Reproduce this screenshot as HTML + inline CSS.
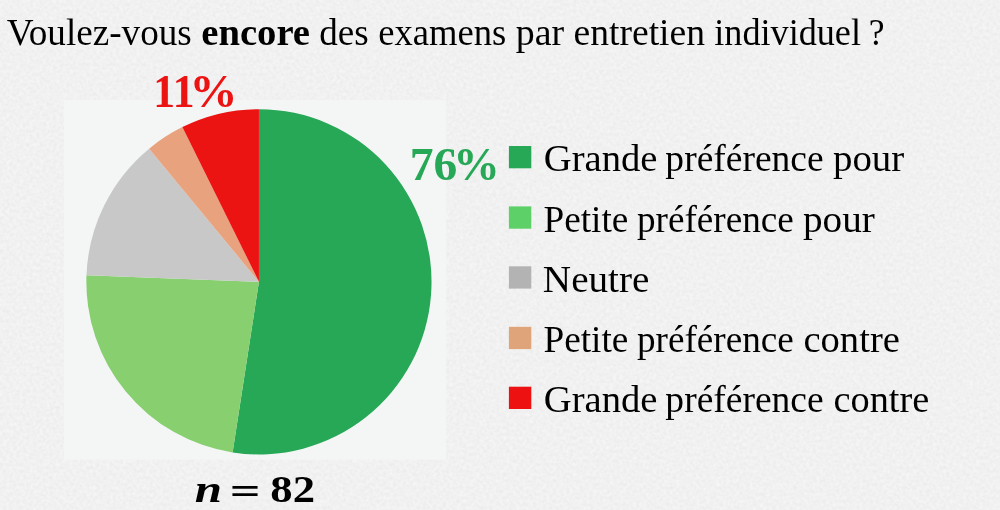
<!DOCTYPE html>
<html lang="fr"><head><meta charset="utf-8"><title>Sondage</title>
<style>
html,body{margin:0;padding:0;background:#f0f0f0;}
body{width:1000px;height:510px;overflow:hidden;}
svg{display:block}
text{font-family:"Liberation Serif",serif;}
</style></head><body>
<svg width="1000" height="510" viewBox="0 0 1000 510">
<defs><filter id="paper" x="0" y="0" width="100%" height="100%" color-interpolation-filters="sRGB"><feTurbulence type="fractalNoise" baseFrequency="0.3" numOctaves="2" seed="7" result="n"/><feColorMatrix in="n" type="matrix" values="0.06 0 0 0 0.914  0.06 0 0 0 0.914  0.06 0 0 0 0.914  0 0 0 0 1"/></filter></defs>
<rect width="1000" height="510" fill="#f0f0f0"/>
<rect width="1000" height="510" fill="#fff" filter="url(#paper)" opacity="1"/>
<rect x="64" y="100" width="382" height="359.6" fill="#f4f6f6"/>
<path d="M258.95,281.8 L258.95,109.20 A172.6,172.6 0 1 1 232.60,452.38 Z" fill="#27a857"/>
<path d="M258.95,281.8 L232.60,452.38 A172.6,172.6 0 0 1 86.48,275.19 Z" fill="#87cf6f"/>
<path d="M258.95,281.8 L86.48,275.19 A172.6,172.6 0 0 1 149.13,148.64 Z" fill="#c8c8c8"/>
<path d="M258.95,281.8 L149.13,148.64 A172.6,172.6 0 0 1 182.36,127.12 Z" fill="#e8a27e"/>
<path d="M258.95,281.8 L182.36,127.12 A172.6,172.6 0 0 1 258.95,109.20 Z" fill="#ec1313"/>
<rect x="508.9" y="146" width="22.4" height="22.3" fill="#27a857"/>
<rect x="508.9" y="206.4" width="22.4" height="22.3" fill="#5dd167"/>
<rect x="508.9" y="266.3" width="22.4" height="22.3" fill="#b3b3b3"/>
<rect x="508.9" y="326.8" width="22.4" height="22.3" fill="#dfa47a"/>
<rect x="508.9" y="386.7" width="22.4" height="22.3" fill="#ee1111"/>
<text font-size="37" fill="#000"><tspan x="6.7" y="44.6" textLength="185.07" lengthAdjust="spacingAndGlyphs">Voulez-vous</tspan> <tspan x="201.22" y="44.6" textLength="108.8" lengthAdjust="spacingAndGlyphs" font-weight="bold">encore</tspan> <tspan x="319.28" y="44.6" textLength="49.43" lengthAdjust="spacingAndGlyphs">des</tspan> <tspan x="378.27" y="44.6" textLength="128.01" lengthAdjust="spacingAndGlyphs">examens</tspan> <tspan x="515.69" y="44.6" textLength="48.37" lengthAdjust="spacingAndGlyphs">par</tspan> <tspan x="573.48" y="44.6" textLength="131.63" lengthAdjust="spacingAndGlyphs">entretien</tspan> <tspan x="714.34" y="44.6" textLength="146.61" lengthAdjust="spacingAndGlyphs">individuel</tspan> <tspan x="868.71" y="44.6" textLength="15.83" lengthAdjust="spacingAndGlyphs">?</tspan></text>
<text font-size="37" fill="#000"><tspan x="543.76" y="170.8" textLength="113.72" lengthAdjust="spacingAndGlyphs">Grande</tspan> <tspan x="665.39" y="170.8" textLength="158.27" lengthAdjust="spacingAndGlyphs">préférence</tspan> <tspan x="832.99" y="170.8" textLength="71.26" lengthAdjust="spacingAndGlyphs">pour</tspan></text>
<text font-size="37" fill="#000"><tspan x="543.47" y="231.5" textLength="84.81" lengthAdjust="spacingAndGlyphs">Petite</tspan> <tspan x="636.99" y="231.5" textLength="156.87" lengthAdjust="spacingAndGlyphs">préférence</tspan> <tspan x="802.99" y="231.5" textLength="71.86" lengthAdjust="spacingAndGlyphs">pour</tspan></text>
<text font-size="37" fill="#000"><tspan x="542.87" y="291.5" textLength="106.51" lengthAdjust="spacingAndGlyphs">Neutre</tspan></text>
<text font-size="37" fill="#000"><tspan x="543.47" y="351.6" textLength="84.81" lengthAdjust="spacingAndGlyphs">Petite</tspan> <tspan x="636.99" y="351.6" textLength="156.87" lengthAdjust="spacingAndGlyphs">préférence</tspan> <tspan x="803.45" y="351.6" textLength="96.44" lengthAdjust="spacingAndGlyphs">contre</tspan></text>
<text font-size="37" fill="#000"><tspan x="543.76" y="411.7" textLength="113.72" lengthAdjust="spacingAndGlyphs">Grande</tspan> <tspan x="665.39" y="411.7" textLength="158.27" lengthAdjust="spacingAndGlyphs">préférence</tspan> <tspan x="833.45" y="411.7" textLength="95.83" lengthAdjust="spacingAndGlyphs">contre</tspan></text>
<text font-size="47" font-weight="bold" fill="#ec1313"><tspan x="153.32" y="107.4" textLength="41.2" lengthAdjust="spacingAndGlyphs">11</tspan><tspan x="189.62" y="107.4" textLength="48.01" lengthAdjust="spacingAndGlyphs">%</tspan></text>
<text font-size="47" font-weight="bold" fill="#27a857"><tspan x="409.76" y="179.9" textLength="47.6" lengthAdjust="spacingAndGlyphs">76</tspan><tspan x="453.28" y="179.9" textLength="46.56" lengthAdjust="spacingAndGlyphs">%</tspan></text>
<text font-size="38" font-weight="bold" fill="#000"><tspan x="194.66" y="501.8" textLength="27.24" lengthAdjust="spacingAndGlyphs" font-style="italic">n</tspan> <tspan x="229.85" y="503.7" textLength="30.8" lengthAdjust="spacingAndGlyphs">=</tspan> <tspan x="270.35" y="501.8" textLength="44.65" lengthAdjust="spacingAndGlyphs">82</tspan></text>
</svg>
</body></html>
